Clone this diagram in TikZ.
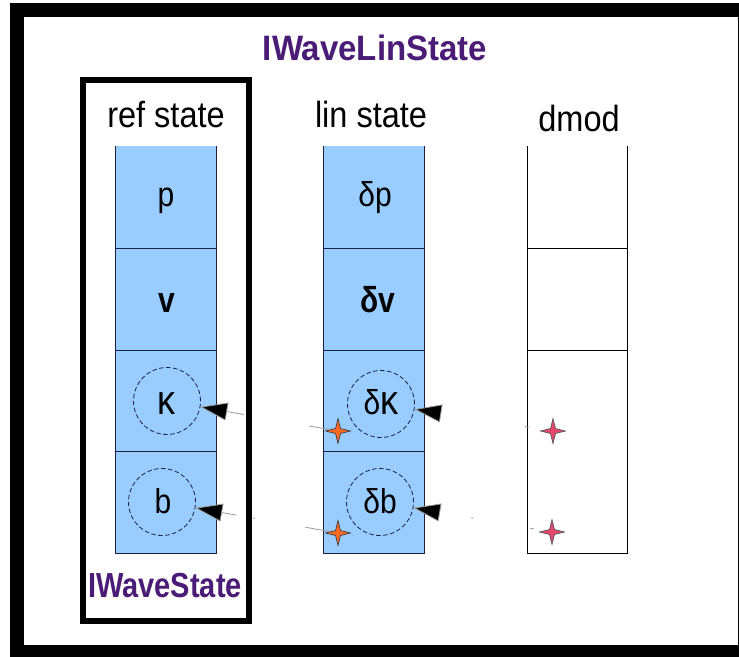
\documentclass[tikz,border=0pt]{standalone}
\usepackage{fontspec}
\setmainfont{Liberation Sans}
\usetikzlibrary{arrows.meta,shapes.geometric,calc}
\definecolor{cellblue}{RGB}{153,204,255}
\definecolor{navy}{RGB}{25,35,65}
\definecolor{titlepurple}{RGB}{75,28,118}
\definecolor{starorange}{RGB}{255,105,35}
\definecolor{starpink}{RGB}{228,70,112}
\newcommand{\talltext}[2][1.15]{\scalebox{1}[#1]{#2}}
\begin{document}
\begin{tikzpicture}[x=1pt,y=-1pt,
  cellfill/.style={fill=cellblue, minimum width=100pt, minimum height=102pt, inner sep=0pt},
  emptycell/.style={minimum width=100pt, minimum height=102pt, inner sep=0pt},
  cellline/.style={draw=navy, line width=0.9pt},
  celltext/.style={anchor=base, inner sep=0pt, font=\fontsize{30}{34}\selectfont},
  dcirc/.style={circle, draw=navy, dash pattern=on 4.5pt off 2.5pt, line width=0.8pt, minimum size=67pt, inner sep=0pt},
  ostar/.style={star, star points=4, star point ratio=3.6, minimum size=25pt, inner sep=0pt, fill=starorange, draw=black!75, line width=0.7pt},
  pstar/.style={star, star points=4, star point ratio=3.6, minimum size=25pt, inner sep=0pt, fill=starpink, draw=black!65, line width=0.7pt},
  conn/.style={draw=black!40, line width=0.8pt, -{Triangle[length=27pt,width=18pt,fill=black]}},
  header/.style={font=\fontsize{32.5}{38}\selectfont, anchor=base, inner sep=0pt},
  ptitle/.style={font=\fontsize{33}{40}\selectfont\bfseries, text=titlepurple, anchor=base, inner sep=0pt}
]
\useasboundingbox (0,0) rectangle (739,656);
\fill[white] (0,0) rectangle (739,656);

% ref state column
\node[cellfill] (r1) at (166,197) {};
\node[cellfill] (r2) at (166,299) {};
\node[cellfill] (r3) at (166,400.5) {};
\node[cellfill] (r4) at (166,502) {};
\draw[cellline] (r1.north west) -- (r4.south west) -- (r4.south east) -- (r1.north east);
\draw[cellline] (r1.south west) -- (r1.south east);
\draw[cellline] (r2.south west) -- (r2.south east);
\draw[cellline] (r3.south west) -- (r3.south east);
\node[celltext] (tp) at (166,206) {\talltext{p}};
\node[celltext] (tv) at (167,312) {\talltext[1.2]{\bfseries v}};

% lin state column
\node[cellfill] (l1) at (374,197) {};
\node[cellfill] (l2) at (374,299) {};
\node[cellfill] (l3) at (374,400.5) {};
\node[cellfill] (l4) at (374,502) {};
\draw[cellline] (l1.north west) -- (l4.south west) -- (l4.south east) -- (l1.north east);
\draw[cellline] (l1.south west) -- (l1.south east);
\draw[cellline] (l2.south west) -- (l2.south east);
\draw[cellline] (l3.south west) -- (l3.south east);
\node[celltext] (tdp) at (375,206) {\talltext{δp}};
\node[celltext] (tdv) at (378,312) {\talltext[1.2]{\bfseries δv}};

% dmod column
\node[emptycell] (d1) at (577.5,197) {};
\node[emptycell] (d2) at (577.5,299) {};
\node[emptycell, minimum height=203pt] (d3) at (577.5,451.5) {};
\draw[draw=black, line width=0.8pt] (d1.north west) -- (d3.south west) -- (d3.south east) -- (d1.north east);
\draw[draw=black, line width=0.8pt] (d1.south west) -- (d1.south east);
\draw[draw=black, line width=0.8pt] (d2.south west) -- (d2.south east);

% dashed circles
\node[dcirc] (rk) at (167,401) {};
\node[dcirc] (rb) at (162,502) {};
\node[dcirc] (lk) at (381,404) {};
\node[dcirc] (lb) at (380,502) {};
\node[celltext, font=\fontsize{36}{40}\selectfont] (tk) at (166,414) {\talltext{κ}};
\node[celltext] (tb) at (163,513) {\talltext{b}};
\node[celltext, font=\fontsize{30}{34}\selectfont] (tdk) at (381,414) {\talltext{δ\fontsize{36}{40}\selectfont κ}};
\node[celltext] (tdb) at (380,513) {\talltext{δb}};

% stars
\node[ostar] (s1) at (338,431) {};
\node[ostar] (s2) at (338,533) {};
\node[pstar] (s3) at (553,431) {};
\node[pstar] (s4) at (552,532) {};

% connectors
\draw[conn, dash pattern=on 21pt off 66pt on 300pt] (s1) -- (rk);
\draw[conn, dash pattern=on 25pt off 51pt on 2pt off 17pt on 300pt] (s2) -- (rb);
\draw[conn, dash pattern=on 0pt off 16pt on 4pt off 500pt] (s3) -- (lk);
\draw[conn, dash pattern=on 0pt off 10pt on 4pt off 58pt on 2pt off 500pt] (s4) -- (lb);

% inner box (IWaveState)
\node[draw=black, line width=6pt, minimum width=166pt, minimum height=541pt, inner sep=0pt] (box) at (166,350.5) {};

% outer frame
\draw[line width=14pt] (750,10) -- (16.5,10) -- (16.5,652) -- (750,652);
\draw[line width=2pt] (738.5,3) -- (738.5,656);

% texts
\node[ptitle] (title) at (375,60) {\talltext[1.07]{IWaveLinState}};
\node[header] (h1) at (166,127) {\talltext[1.12]{ref state}};
\node[header] (h2) at (371,127) {\talltext[1.12]{lin state}};
\node[header] (h3) at (579,131) {\talltext[1.12]{dmod}};
\node[anchor=base, inner sep=0pt, text=titlepurple, font=\fontsize{29}{34}\selectfont\bfseries] (iws) at (165,597) {\talltext[1.2]{IWaveState}};
\end{tikzpicture}
\end{document}
